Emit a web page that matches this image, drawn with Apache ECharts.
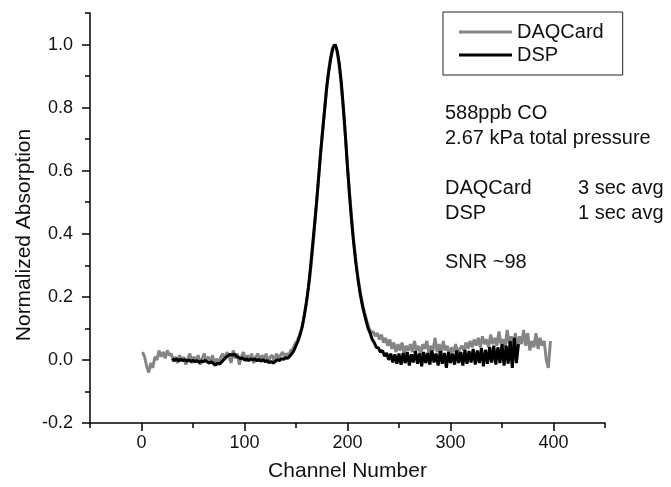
<!DOCTYPE html>
<html>
<head>
<meta charset="utf-8">
<script src="https://cdn.jsdelivr.net/npm/echarts@6/dist/echarts.min.js"></script>
<style>
  html, body { margin: 0; padding: 0; background: #fff; }
  #chart { width: 671px; height: 487px; }
</style>
</head>
<body>
<div id="chart"></div>
<script>
// DAQCard trace: channel 1, 3, 5 ... 397
const daqStart = 1
const daqStep = 2
const daqValues = [
  0.025, 0.01, -0.02, -0.04, -0.01, -0.025, 0.01, 0.0, 0.03, 0.01,
  0.025, 0.005, 0.03, 0.015, 0.02, -0.005, 0.01, -0.01, 0.015, -0.005,
  0.01, -0.015, 0.005, 0.02, -0.01, 0.01, -0.005, 0.015, -0.015, 0.005,
  0.02, -0.005, 0.01, -0.01, 0.015, -0.02, 0.005, -0.015, 0.01, 0.02,
  0.0, 0.025, 0.01, -0.01, 0.03, 0.005, 0.02, -0.015, 0.01, 0.025,
  -0.005, 0.015, 0.0, 0.02, -0.01, 0.01, 0.02, -0.005, 0.015, 0.0,
  0.02, -0.01, 0.01, 0.015, -0.005, 0.02, 0.005, 0.015, 0.025, 0.01,
  0.02, 0.015, 0.03, 0.035, 0.05, 0.06, 0.075, 0.095, 0.12, 0.16,
  0.20, 0.25, 0.31, 0.38, 0.46, 0.54, 0.62, 0.70, 0.77, 0.84,
  0.90, 0.95, 0.985, 1.0, 0.99, 0.955, 0.90, 0.83, 0.75, 0.66,
  0.57, 0.49, 0.41, 0.35, 0.29, 0.245, 0.205, 0.17, 0.145, 0.12,
  0.10, 0.085, 0.09, 0.075, 0.085, 0.065, 0.08, 0.055, 0.07, 0.045,
  0.065, 0.035, 0.055, 0.025, 0.05, 0.03, 0.055, 0.02, 0.045, 0.03,
  0.05, 0.025, 0.06, 0.03, 0.045, 0.015, 0.05, 0.035, 0.06, 0.02,
  0.045, 0.03, 0.07, 0.025, 0.05, 0.02, 0.06, 0.03, 0.045, 0.015,
  0.04, 0.025, 0.05, 0.02, 0.035, 0.045, 0.03, 0.055, 0.035, 0.06,
  0.04, 0.065, 0.045, 0.07, 0.04, 0.075, 0.05, 0.065, 0.04, 0.08,
  0.05, 0.07, 0.045, 0.09, 0.05, 0.065, 0.04, 0.095, 0.05, 0.075,
  0.045, 0.085, 0.04, 0.075, 0.05, 0.095, 0.045, 0.085, 0.03, 0.06,
  0.04, 0.085, 0.035, 0.07, 0.045, 0.06, 0.0, -0.025, 0.06
]

// DSP trace: channel 30, 32, 34 ... 366
const dspStart = 30
const dspStep = 2
const dspValues = [
  0.004, -0.002, 0.003, -0.003, 0.002, -0.002, 0.001, -0.004, 0.0, -0.005,
  -0.001, -0.006, -0.002, -0.008, -0.003, -0.006, -0.001, -0.007, -0.01, -0.006,
  -0.012, -0.015, -0.011, -0.013, -0.006, 0.002, 0.008, 0.014, 0.018, 0.015,
  0.019, 0.012, 0.009, 0.004, 0.006, 0.0, 0.004, -0.002, 0.003, 0.0,
  0.004, -0.003, 0.002, -0.004, 0.001, -0.006, -0.002, -0.009, -0.005, -0.01,
  -0.004, 0.001, -0.002, 0.004, 0.002, 0.007, 0.005, 0.012, 0.02, 0.03,
  0.045, 0.06, 0.08, 0.105, 0.14, 0.18, 0.23, 0.29, 0.36, 0.43,
  0.50, 0.58, 0.66, 0.73, 0.80, 0.87, 0.92, 0.96, 0.99, 1.0,
  0.98, 0.94, 0.88, 0.80, 0.71, 0.61, 0.52, 0.44, 0.37, 0.31,
  0.26, 0.215, 0.18, 0.15, 0.125, 0.10, 0.085, 0.065, 0.055, 0.04,
  0.038, 0.025, 0.03, 0.012, 0.022, 0.0, 0.02, -0.008, 0.018, -0.012,
  0.02, -0.015, 0.022, -0.01, 0.025, -0.018, 0.018, -0.008, 0.028, -0.012,
  0.02, -0.02, 0.025, -0.01, 0.022, -0.015, 0.03, -0.008, 0.02, -0.018,
  0.028, -0.012, 0.022, -0.025, 0.025, -0.01, 0.02, -0.015, 0.03, -0.01,
  0.025, -0.018, 0.032, -0.012, 0.028, -0.008, 0.035, -0.015, 0.03, -0.01,
  0.038, -0.02, 0.032, -0.012, 0.04, -0.008, 0.045, -0.015, 0.04, -0.01,
  0.05, -0.018, 0.045, -0.012, 0.06, -0.025, 0.07, -0.01, 0.05
]

const xMajorTicks = [0, 100, 200, 300, 400]
const xMinorTicks = [-50, 50, 150, 250, 350, 450]
const yMajorTicks = [-0.2, 0.0, 0.2, 0.4, 0.6, 0.8, 1.0]
const yMinorTicks = [-0.1, 0.1, 0.3, 0.5, 0.7, 0.9, 1.1]

const notes = [
  { text: '588ppb CO', x: 445, y: 113 },
  { text: '2.67 kPa total pressure', x: 445, y: 138 },
  { text: 'DAQCard', x: 445, y: 188 },
  { text: '3 sec avg', x: 578, y: 188 },
  { text: 'DSP', x: 445, y: 213 },
  { text: '1 sec avg', x: 578, y: 213 },
  { text: 'SNR ~98', x: 445, y: 262 }
]

const FONT = "'Liberation Sans', Arial, sans-serif"

// 把起点+步长变成 [x, y] 点对
const toPairs = (start, step, values) => values.map((v, i) => [start + i * step, v])

const chart = echarts.init(document.getElementById('chart'))

const axisCommon = {
  type: 'value',
  splitLine: { show: false },
  axisLine: { show: true, onZero: false, lineStyle: { color: '#000', width: 1.5 } }
}

const option = {
  animation: false,
  backgroundColor: '#fff',
  grid: { left: 90, right: 66, top: 13, bottom: 60 },
  legend: {
    left: 443,
    top: 12,
    orient: 'vertical',
    icon: 'rect',
    itemWidth: 53,
    itemHeight: 3,
    itemGap: 3,
    padding: [10, 19, 10, 16],
    borderColor: '#222',
    borderWidth: 1,
    textStyle: { fontFamily: FONT, fontSize: 20, color: '#111' },
    data: ['DAQCard', 'DSP']
  },
  xAxis: [
    {
      ...axisCommon,
      min: -50,
      max: 450,
      name: 'Channel Number',
      nameLocation: 'middle',
      nameGap: 38,
      nameTextStyle: { fontFamily: FONT, fontSize: 21, color: '#111' },
      axisTick: { customValues: xMajorTicks, length: 8, lineStyle: { color: '#000', width: 1.5 } },
      axisLabel: { customValues: xMajorTicks, margin: 11, fontFamily: FONT, fontSize: 18, color: '#111' }
    },
    {
      ...axisCommon,
      min: -50,
      max: 450,
      position: 'bottom',
      axisLine: { show: false, onZero: false },
      axisTick: { customValues: xMinorTicks, length: 5, lineStyle: { color: '#000', width: 1.5 } },
      axisLabel: { show: false }
    }
  ],
  yAxis: [
    {
      ...axisCommon,
      min: -0.2,
      max: 1.1,
      axisTick: { customValues: yMajorTicks, length: 8, lineStyle: { color: '#000', width: 1.5 } },
      axisLabel: {
        customValues: yMajorTicks,
        margin: 17,
        fontFamily: FONT,
        fontSize: 18,
        color: '#111',
        formatter: v => v.toFixed(1)
      }
    },
    {
      ...axisCommon,
      min: -0.2,
      max: 1.1,
      position: 'left',
      axisLine: { show: false, onZero: false },
      axisTick: { customValues: yMinorTicks, length: 5, lineStyle: { color: '#000', width: 1.5 } },
      axisLabel: { show: false }
    }
  ],
  graphic: [
    {
      type: 'text',
      x: 24,
      y: 235,
      rotation: Math.PI / 2,
      style: {
        text: 'Normalized Absorption',
        font: `21px ${FONT}`,
        fill: '#111',
        align: 'center',
        verticalAlign: 'middle'
      }
    },
    ...notes.map(n => ({
      type: 'text',
      x: n.x,
      y: n.y,
      style: { text: n.text, font: `20px ${FONT}`, fill: '#111', verticalAlign: 'middle' }
    }))
  ],
  series: [
    {
      name: 'DAQCard',
      type: 'line',
      showSymbol: false,
      symbol: 'none',
      data: toPairs(daqStart, daqStep, daqValues),
      lineStyle: { color: '#858585', width: 3 },
      itemStyle: { color: '#858585' }
    },
    {
      name: 'DSP',
      type: 'line',
      showSymbol: false,
      symbol: 'none',
      data: toPairs(dspStart, dspStep, dspValues),
      lineStyle: { color: '#000', width: 3 },
      itemStyle: { color: '#000' }
    }
  ]
}

chart.setOption(option)
</script>
</body>
</html>
